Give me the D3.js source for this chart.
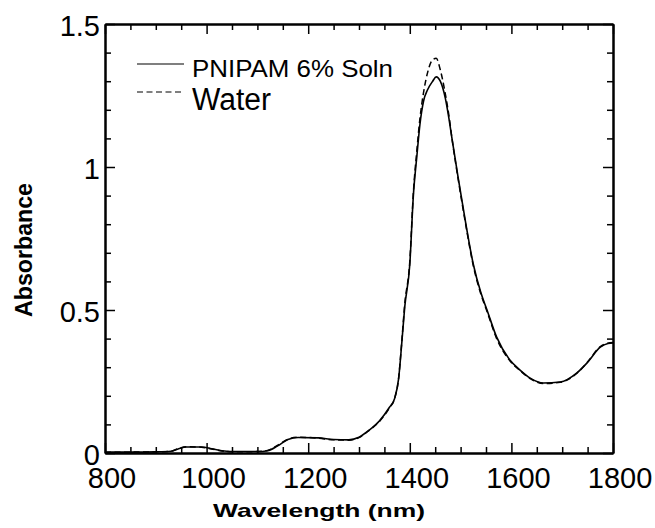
<!DOCTYPE html>
<html>
<head>
<meta charset="utf-8">
<script src="https://cdn.jsdelivr.net/npm/d3@7"></script>
<style>
  body { margin: 0; background: #fff; }
  svg { display: block; font-family: "Liberation Sans", Arial, sans-serif; }
  .axis path, .axis line { stroke: #000; }
  .axis path { stroke-width: 2; }
  .axis line { stroke-width: 1.5; }
  .axis text { font-size: 29px; fill: #000; }
</style>
</head>
<body>
<div id="chart"></div>
<script>
// wavelength (nm) and absorbance
var wavelength = [800, 850, 900, 930, 945, 960, 990, 1010, 1030, 1060, 1100, 1120, 1140, 1160, 1180, 1220,
  1250, 1280, 1300, 1320, 1340, 1360, 1370, 1378, 1384, 1390, 1400, 1407, 1414, 1420, 1427, 1435, 1445,
  1452, 1460, 1470, 1477, 1483, 1495, 1509, 1525, 1540, 1552, 1571, 1597, 1617, 1637, 1663, 1696, 1729,
  1749, 1775, 1790, 1800];
var pnipam = [0.003, 0.003, 0.004, 0.006, 0.015, 0.021, 0.021, 0.015, 0.008, 0.005, 0.005, 0.008, 0.025,
  0.047, 0.054, 0.053, 0.047, 0.046, 0.055, 0.08, 0.112, 0.16, 0.19, 0.26, 0.38, 0.51, 0.66, 0.90, 1.04,
  1.15, 1.23, 1.27, 1.30, 1.315, 1.30, 1.24, 1.17, 1.10, 0.965, 0.815, 0.66, 0.56, 0.50, 0.405, 0.325,
  0.29, 0.262, 0.245, 0.248, 0.28, 0.315, 0.37, 0.383, 0.385];
var water = [0.002, 0.003, 0.004, 0.006, 0.016, 0.022, 0.02, 0.014, 0.007, 0.004, 0.005, 0.009, 0.027,
  0.048, 0.055, 0.052, 0.046, 0.045, 0.054, 0.079, 0.11, 0.158, 0.19, 0.262, 0.385, 0.52, 0.67, 0.91, 1.06,
  1.17, 1.26, 1.33, 1.375, 1.38, 1.34, 1.255, 1.18, 1.10, 0.96, 0.81, 0.655, 0.555, 0.495, 0.40, 0.322,
  0.288, 0.26, 0.243, 0.247, 0.279, 0.316, 0.372, 0.384, 0.386];

var xMajor = [800, 1000, 1200, 1400, 1600, 1800];
var yMajor = [0, 0.5, 1, 1.5];
var xMinor = d3.range(850, 1800, 50).filter(function(v) { return v % 200 !== 0; });
var yMinor = [0.1, 0.2, 0.3, 0.4, 0.6, 0.7, 0.8, 0.9, 1.1, 1.2, 1.3, 1.4];

var legendNames = ["PNIPAM 6% Soln", "Water"];

var width = 655, height = 528;
var plotLeft = 105, plotRight = 613, plotTop = 24, plotBottom = 453;

var svg = d3.select("#chart").append("svg")
    .attr("width", width)
    .attr("height", height);

var x = d3.scaleLinear().domain([800, 1800]).range([plotLeft, plotRight]);
var y = d3.scaleLinear().domain([0, 1.5]).range([plotBottom, plotTop]);

// major ticks with labels, all ticks point inward
svg.append("g").attr("class", "axis")
    .attr("transform", "translate(0," + plotBottom + ")")
    .call(d3.axisBottom(x).tickValues(xMajor).tickFormat(d3.format("d"))
        .tickSize(-10).tickSizeOuter(0).tickPadding(14))
    .selectAll("text").attr("dx", 6.5);

svg.append("g").attr("class", "axis")
    .attr("transform", "translate(" + plotLeft + ",0)")
    .call(d3.axisLeft(y).tickValues(yMajor).tickFormat(function(d) { return d; })
        .tickSize(-10).tickSizeOuter(0).tickPadding(5))
    .selectAll("text").attr("dy", "0.4em");

svg.append("g").attr("class", "axis")
    .attr("transform", "translate(0," + plotTop + ")")
    .call(d3.axisTop(x).tickValues(xMajor).tickFormat("").tickSize(-10).tickSizeOuter(0));

svg.append("g").attr("class", "axis")
    .attr("transform", "translate(" + plotRight + ",0)")
    .call(d3.axisRight(y).tickValues(yMajor).tickFormat("").tickSize(-10).tickSizeOuter(0));

// minor ticks
svg.append("g").attr("class", "axis")
    .attr("transform", "translate(0," + plotBottom + ")")
    .call(d3.axisBottom(x).tickValues(xMinor).tickFormat("").tickSize(-6).tickSizeOuter(0));
svg.append("g").attr("class", "axis")
    .attr("transform", "translate(0," + plotTop + ")")
    .call(d3.axisTop(x).tickValues(xMinor).tickFormat("").tickSize(-6).tickSizeOuter(0));
svg.append("g").attr("class", "axis")
    .attr("transform", "translate(" + plotLeft + ",0)")
    .call(d3.axisLeft(y).tickValues(yMinor).tickFormat("").tickSize(-6).tickSizeOuter(0));
svg.append("g").attr("class", "axis")
    .attr("transform", "translate(" + plotRight + ",0)")
    .call(d3.axisRight(y).tickValues(yMinor).tickFormat("").tickSize(-6).tickSizeOuter(0));

// curves
function lineFor(vals) {
    return d3.line()
        .x(function(d, i) { return x(wavelength[i]); })
        .y(function(d) { return y(d); })
        .curve(d3.curveMonotoneX)(vals);
}

svg.append("path")
    .attr("d", lineFor(water))
    .attr("fill", "none")
    .attr("stroke", "#000")
    .attr("stroke-width", 1.5)
    .attr("stroke-dasharray", "6,3.5");

svg.append("path")
    .attr("d", lineFor(pnipam))
    .attr("fill", "none")
    .attr("stroke", "#000")
    .attr("stroke-width", 1.6);

// legend
svg.append("line")
    .attr("x1", 137).attr("x2", 184).attr("y1", 64).attr("y2", 64)
    .attr("stroke", "#000").attr("stroke-width", 1.2);
svg.append("text")
    .attr("x", 192).attr("y", 77)
    .attr("font-size", 24)
    .attr("textLength", 201).attr("lengthAdjust", "spacingAndGlyphs")
    .text(legendNames[0]);

svg.append("line")
    .attr("x1", 137).attr("x2", 184).attr("y1", 92).attr("y2", 92)
    .attr("stroke", "#000").attr("stroke-width", 1.2)
    .attr("stroke-dasharray", "6,3.5");
svg.append("text")
    .attr("x", 192).attr("y", 110)
    .attr("font-size", 31)
    .attr("textLength", 79).attr("lengthAdjust", "spacingAndGlyphs")
    .text(legendNames[1]);

// axis titles
svg.append("text")
    .attr("x", 213).attr("y", 517)
    .attr("font-size", 19).attr("font-weight", "bold")
    .attr("textLength", 212).attr("lengthAdjust", "spacingAndGlyphs")
    .text("Wavelength (nm)");

svg.append("text")
    .attr("transform", "translate(32,317) rotate(-90)")
    .attr("font-size", 24).attr("font-weight", "bold")
    .attr("textLength", 134).attr("lengthAdjust", "spacingAndGlyphs")
    .text("Absorbance");
</script>
</body>
</html>
